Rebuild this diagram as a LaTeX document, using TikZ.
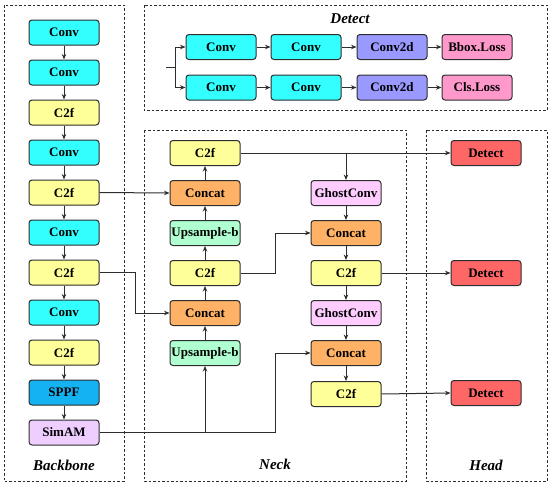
\documentclass[tikz,border=0pt]{standalone}
\usepackage{fontspec}
\setmainfont{Liberation Serif}
\usepackage{tikz}
\usetikzlibrary{arrows.meta}
\definecolor{convc}{RGB}{51,255,255}
\definecolor{cfc}{RGB}{255,255,153}
\definecolor{sppfc}{RGB}{20,178,240}
\definecolor{simc}{RGB}{238,206,255}
\definecolor{catc}{RGB}{255,178,102}
\definecolor{upc}{RGB}{175,255,208}
\definecolor{ghostc}{RGB}{255,204,255}
\definecolor{c2dc}{RGB}{153,153,255}
\definecolor{lossc}{RGB}{255,153,204}
\definecolor{detc}{RGB}{255,102,102}
\definecolor{edge}{RGB}{45,45,45}
\tikzset{
  blk/.style={draw=edge,line width=1pt,rounded corners=3pt,minimum width=70pt,minimum height=25pt,
    inner sep=0pt,font=\fontsize{13}{15}\selectfont\bfseries},
  frame/.style={draw=edge,line width=.8pt,dash pattern=on 2.5pt off 2pt},
  title/.style={font=\fontsize{15}{17}\selectfont\bfseries\itshape},
  link/.style={draw=edge,line width=1pt}
}

\begin{document}
\begin{tikzpicture}[x=1pt,y=-1pt,>={Stealth[length=5.5pt,width=4.5pt]}]
\useasboundingbox (0,0) rectangle (550,488);
% frames
\draw[frame] (4,5) rectangle (124,481);
\draw[frame] (144,5) rectangle (547,110);
\draw[frame] (144,130) rectangle (406,481);
\draw[frame] (426,130) rectangle (547,481);
\node[title] (tb) at (64,465) {Backbone};
\node[title] (td) at (350,19) {Detect};
\node[title] (tn) at (275,464) {Neck};
\node[title] (th) at (486,465) {Head};
% backbone
\foreach \i/\t/\c in {1/Conv/convc,2/Conv/convc,3/C2f/cfc,4/Conv/convc,5/C2f/cfc,6/Conv/convc,
  7/C2f/cfc,8/Conv/convc,9/C2f/cfc,10/SPPF/sppfc,11/SimAM/simc}
  \node[blk,fill=\c] (b\i) at (64,{40*\i-7.5}) {\t};
\foreach \i [count=\j from 2] in {1,...,10} \draw[link,->] (b\i) -- (b\j);
% neck, left column
\foreach \i/\t/\c in {1/C2f/cfc,2/Concat/catc,3/Upsample-b/upc,4/C2f/cfc,5/Concat/catc,6/Upsample-b/upc}
  \node[blk,fill=\c] (n\i) at (205,{40*\i+113}) {\t};
\foreach \i [count=\j from 1] in {2,...,6} \draw[link,->] (n\i) -- (n\j);
% neck, right column
\node[blk,fill=ghostc] (g1) at (346,193) {GhostConv};
\node[blk,fill=catc] (m1) at (346,233) {Concat};
\node[blk,fill=cfc] (m2) at (346,273) {C2f};
\node[blk,fill=ghostc] (g2) at (346,313) {GhostConv};
\node[blk,fill=catc] (m3) at (346,353) {Concat};
\node[blk,fill=cfc] (m4) at (346,394) {C2f};
\draw[link,->] (g1) -- (m1);
\draw[link,->] (m1) -- (m2);
\draw[link,->] (m2) -- (g2);
\draw[link,->] (g2) -- (m3);
\draw[link,->] (m3) -- (m4);
% head
\foreach \i/\y in {1/153,2/273,3/393}
  \node[blk,fill=detc] (h\i) at (486,\y) {Detect};
% links between parts
\draw[link,->] (b5.east) -- (n2.west);
\draw[link,->] (b7.east) -- ++(36,0) |- (n5.west);
\draw[link,->] (b11.east) -- ++(176,0) |- (m3.west);
\draw[link,->] (n6.south |- b11.east) -- (n6.south);
\draw[link,->] (n4.east) -- ++(35,0) |- (m1.west);
\draw[link,->] (n1.east) -- (h1.west);
\draw[link,->] (g1.north |- n1.east) -- (g1.north);
\draw[link,->] (m2.east) -- (h2.west);
\draw[link,->] (m4.east) -- (h3.west);
% detect block
\foreach \i/\x/\t/\c in {1/221/Conv/convc,2/306/Conv/convc,3/392/Conv2d/c2dc,4/477/Bbox.Loss/lossc}
  \node[blk,fill=\c] (a\i) at (\x,47) {\t};
\foreach \i/\x/\t/\c in {1/221/Conv/convc,2/306/Conv/convc,3/392/Conv2d/c2dc,4/477/Cls.Loss/lossc}
  \node[blk,fill=\c] (c\i) at (\x,87.5) {\t};
\foreach \i [count=\j from 2] in {1,2,3} {\draw[link,->] (a\i) -- (a\j); \draw[link,->] (c\i) -- (c\j);}
\coordinate (d0) at (166,67);
\coordinate (dj) at (175,67);
\draw[link] (d0) -- (dj);
\draw[link,->] (dj) |- (a1.west);
\draw[link,->] (dj) |- (c1.west);
\end{tikzpicture}
\end{document}
